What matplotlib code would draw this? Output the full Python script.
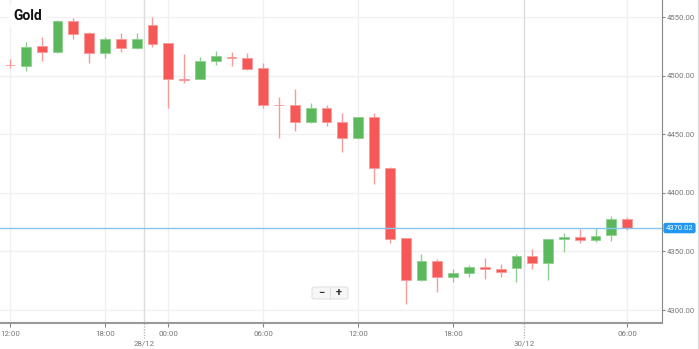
import matplotlib
matplotlib.use("Agg")
import matplotlib.pyplot as plt
import matplotlib.transforms as mtrans
from matplotlib.patches import FancyBboxPatch
import numpy as np

plt.rcParams["font.family"] = ["Roboto", "DejaVu Sans"]

# hourly candles, first one is cut off at the left edge
opens = [4512.0, 4509.7, 4508.4, 4525.5, 4520.4, 4546.8, 4536.6, 4519.5, 4531.5, 4523.8,
         4543.4, 4528.0, 4497.5, 4497.3, 4512.3, 4516.1, 4515.5, 4506.4, 4475.4, 4475.1,
         4460.6, 4472.5, 4460.6, 4446.9, 4464.8, 4421.3, 4361.5, 4325.6, 4341.9, 4328.3,
         4331.7, 4336.8, 4335.1, 4335.9, 4346.1, 4340.2, 4360.6, 4362.3, 4359.8, 4364.0,
         4377.7]
highs = [4514.0, 4514.4, 4528.9, 4533.2, 4547.7, 4549.4, 4537.4, 4533.2, 4536.6, 4536.6,
         4550.3, 4528.5, 4518.7, 4516.1, 4521.2, 4520.1, 4519.2, 4510.7, 4481.9, 4488.8,
         4476.8, 4475.1, 4468.3, 4465.0, 4468.3, 4422.1, 4361.8, 4347.8, 4343.6, 4335.1,
         4338.5, 4344.4, 4339.3, 4347.8, 4352.1, 4361.0, 4365.8, 4369.2, 4370.0, 4380.3,
         4379.4]
lows = [4510.0, 4506.7, 4504.1, 4512.7, 4519.5, 4531.5, 4511.0, 4515.2, 4520.4, 4522.9,
        4524.6, 4472.5, 4493.9, 4497.0, 4509.5, 4508.4, 4505.0, 4472.3, 4446.9, 4452.9,
        4459.7, 4457.1, 4434.9, 4446.0, 4407.6, 4357.2, 4305.1, 4324.8, 4315.4, 4323.9,
        4328.3, 4326.6, 4328.3, 4323.9, 4335.1, 4325.6, 4349.5, 4357.2, 4358.1, 4358.9,
        4368.3]
closes = [4511.2, 4509.0, 4524.6, 4520.4, 4546.8, 4535.7, 4519.5, 4531.5, 4523.8, 4531.5,
          4527.2, 4497.3, 4496.8, 4512.7, 4516.9, 4515.5, 4505.9, 4475.1, 4474.8, 4460.6,
          4472.5, 4460.6, 4446.9, 4464.8, 4421.3, 4360.6, 4325.6, 4341.9, 4328.3, 4331.7,
          4336.8, 4335.1, 4332.6, 4346.1, 4340.2, 4360.6, 4362.3, 4359.8, 4363.2, 4377.7,
          4370.02]

tick_pos = [0, 6, 10, 16, 22, 28, 39]
tick_labels = ["12:00", "18:00", "00:00", "06:00", "12:00", "18:00", "06:00"]
day_pos = [8.47, 32.46]
day_labels = ["28/12", "30/12"]
price_ticks = [4300, 4350, 4400, 4450, 4500, 4550]
last_price = 4370.02

up_col, up_edge = "#5cb85c", "#8fd08f"
dn_col, dn_edge = "#f65757", "#f99a9a"

fig = plt.figure(figsize=(6.99, 3.49), dpi=100)
ax = fig.add_axes([0, 0.0754, 0.9471, 0.9246])

x = np.arange(-1, len(opens) - 1)
o = np.array(opens); c = np.array(closes)
h = np.array(highs); l = np.array(lows)
up = c >= o

# grid
for p in price_ticks:
    ax.axhline(p, color="#f0f0f0", lw=1, zorder=0)
for t in tick_pos:
    ax.axvline(t, color="#f0f0f0", lw=1, zorder=0)
for d in day_pos:
    ax.axvline(d, color="#dcdcdc", lw=1, zorder=0)

# candles
ax.vlines(x[up], l[up], h[up], color=up_edge, lw=1, zorder=2)
ax.vlines(x[~up], l[~up], h[~up], color=dn_edge, lw=1, zorder=2)
body_h = np.maximum(np.abs(c - o), 0.6)
ax.bar(x[up], body_h[up], bottom=np.minimum(o, c)[up], width=0.62,
       color=up_col, edgecolor=up_edge, lw=0.6, zorder=3)
ax.bar(x[~up], body_h[~up], bottom=np.minimum(o, c)[~up], width=0.62,
       color=dn_col, edgecolor=dn_edge, lw=0.6, zorder=3)

# last price line
ax.axhline(last_price, color="#86c5ee", lw=1, zorder=4)

ax.set_xlim(-0.632, 41.2)
ax.set_ylim(4289.2, 4564.8)

ax.yaxis.tick_right()
ax.set_yticks(price_ticks)
ax.set_yticklabels([f"{p:.2f}" for p in price_ticks])
ax.tick_params(axis="y", length=2.5, color="#888888", labelsize=5.6,
               labelcolor="#777777", pad=1.2)
ax.set_xticks(tick_pos)
ax.set_xticklabels(tick_labels)
ax.tick_params(axis="x", length=3, color="#888888", labelsize=5.7,
               labelcolor="#777777", pad=3)

for s in ["top", "left"]:
    ax.spines[s].set_visible(False)
ax.spines["right"].set_color("#888888")
ax.spines["bottom"].set_color("#999999")
ax.spines["bottom"].set_linewidth(1.5)

# day separators below the axis
trans = mtrans.blended_transform_factory(ax.transData, ax.transAxes)
for d, lab in zip(day_pos, day_labels):
    ax.plot([d, d], [0, -0.048], transform=trans, color="#bbbbbb", lw=1,
            ls=(0, (1, 1)), clip_on=False)
    ax.text(d, -0.063, lab, transform=trans, ha="center", va="center",
            fontsize=5.7, color="#777777")

# last price tag
ax.annotate(f"{last_price:.2f}", xy=(1, last_price),
            xycoords=("axes fraction", "data"), xytext=(2.6, 0),
            textcoords="offset points", ha="left", va="center",
            fontsize=5.5, color="white",
            bbox=dict(boxstyle="round,pad=0.2,rounding_size=0.2",
                      fc="#2196f3", ec="#2196f3"), annotation_clip=False)

# title
ax.text(13 / 662, 1 - 16 / 322.7, "Gold", transform=ax.transAxes,
        fontsize=10, fontweight="bold", color="#111111", va="center",
        ha="left", bbox=dict(fc="white", ec="none", pad=3))

# zoom buttons
btn = FancyBboxPatch((312 / 699, 1 - 299 / 349), 36 / 699, 12 / 349,
                     boxstyle="round,pad=0,rounding_size=0.005",
                     transform=fig.transFigure, fc="#f6f6f6", ec="#e2e2e2",
                     lw=0.8, zorder=5)
fig.add_artist(btn)
fig.add_artist(plt.Line2D([330 / 699, 330 / 699], [1 - 298 / 349, 1 - 288 / 349],
                          transform=fig.transFigure, color="#e2e2e2", lw=0.8,
                          zorder=6))
fig.text(321 / 699, 1 - 293 / 349, "−", ha="center", va="center",
         fontsize=8, fontweight="bold", color="#333333", zorder=7)
fig.text(339 / 699, 1 - 293 / 349, "+", ha="center", va="center",
         fontsize=8, fontweight="bold", color="#333333", zorder=7)

# thin border at the far right
fig.add_artist(plt.Line2D([697.5 / 699, 697.5 / 699], [0, 1],
                          transform=fig.transFigure, color="#dddddd", lw=1))

fig.savefig("out.png", dpi=100)
